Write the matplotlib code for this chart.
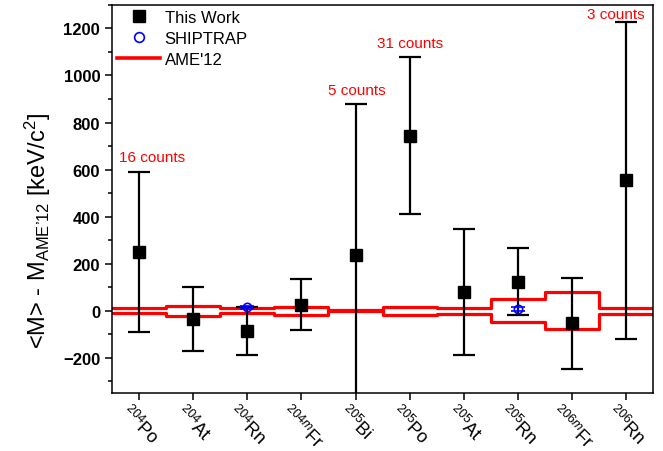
import numpy as np
import matplotlib
matplotlib.use("Agg")
import matplotlib.pyplot as plt
from matplotlib.ticker import MultipleLocator
from matplotlib.lines import Line2D

plt.rcParams['font.family'] = ['Liberation Sans', 'DejaVu Sans']
plt.rcParams['mathtext.fontset'] = 'custom'
plt.rcParams['mathtext.rm'] = 'Liberation Sans'
plt.rcParams['mathtext.it'] = 'Liberation Sans:italic'

# nuclides
labels = [r'$^{204}$Po', r'$^{204}$At', r'$^{204}$Rn', r'$^{204m}$Fr', r'$^{205}$Bi',
          r'$^{205}$Po', r'$^{205}$At', r'$^{205}$Rn', r'$^{206m}$Fr', r'$^{206}$Rn']

# this work: mass difference and uncertainty [keV/c^2]
this_work = [250, -35, -85, 25, 237, 744, 79, 124, -54, 554]
this_err = [340, 135, 101, 108, 643, 333, 268, 141, 194, 672]

# SHIPTRAP values (only 204Rn and 205Rn)
ship_idx = [2, 7]
ship_val = [14, 8]
ship_err = [8, 8]

# AME'12 uncertainty for each nuclide
ame_err = [10, 22, 10, 18, 3, 18, 12, 48, 79, 12]

# count numbers written above some points
count_idx = [0, 4, 5, 9]
count_text = ['16 counts', '5 counts', '31 counts', '3 counts']
count_y = [655, 939, 1137, 1262]
count_dx = [0.24, 0.03, 0.0, -0.18]

x = np.arange(1, len(labels) + 1)

fig = plt.figure(figsize=(6.63, 4.52), dpi=100)
ax = fig.add_axes([0.169, 0.128, 0.816, 0.859])

# AME'12 band as step outline
xe = np.concatenate([[x[0] - 1], x, [x[-1] + 1]])
ae = np.array([ame_err[0]] + ame_err + [ame_err[-1]])
ax.step(xe, ae, where='mid', color='red', lw=2.3, solid_joinstyle='round', zorder=1)
ax.step(xe, -ae, where='mid', color='red', lw=2.3, solid_joinstyle='round', zorder=1)

ax.errorbar(x, this_work, yerr=this_err, fmt='s', color='black', ms=9,
            elinewidth=1.6, capsize=8, capthick=1.6, zorder=3)
ax.errorbar(x[ship_idx], ship_val, yerr=ship_err, fmt='o', color='blue', mfc='none',
            ms=6, mew=1.2, elinewidth=1.2, capsize=5, capthick=1.2, zorder=4)

for i, t, y, dx in zip(count_idx, count_text, count_y, count_dx):
    ax.text(x[i] + dx, y, t, color='red', fontsize=11, ha='center', va='center')

ax.set_xlim(0.5, 10.5)
ax.set_ylim(-350, 1300)
ax.set_xticks(x)
ax.set_xticklabels(labels, rotation=-45, ha='center', va='top', fontsize=13)
ax.yaxis.set_minor_locator(MultipleLocator(100))
ax.set_yticks([-200, 0, 200, 400, 600, 800, 1000, 1200])
for lab in ax.get_yticklabels():
    lab.set_fontweight('bold')
    lab.set_fontsize(12)
ax.tick_params(axis='both', which='major', direction='out', length=5, width=1.1)
ax.tick_params(axis='y', which='minor', direction='out', length=3, width=1.1)
ax.tick_params(axis='x', pad=1)
for s in ax.spines.values():
    s.set_linewidth(1.1)

ax.set_ylabel("<M> - M$_{\\mathrm{AME\u201912}}$ [keV/c$^2$]", fontsize=17)
ax.yaxis.set_label_coords(-0.11, 0.42)

handles = [Line2D([], [], ls='none', marker='s', color='black', ms=9),
           Line2D([], [], ls='none', marker='o', color='blue', mfc='none', ms=7, mew=1.2),
           Line2D([], [], color='red', lw=2.6)]
ax.legend(handles, ['This Work', 'SHIPTRAP', "AME'12"], loc='upper left',
          frameon=False, fontsize=12, borderaxespad=0.3, handlelength=2.6,
          labelspacing=0.35, borderpad=0.0, handletextpad=0.25)

fig.savefig('out.png', dpi=100)
